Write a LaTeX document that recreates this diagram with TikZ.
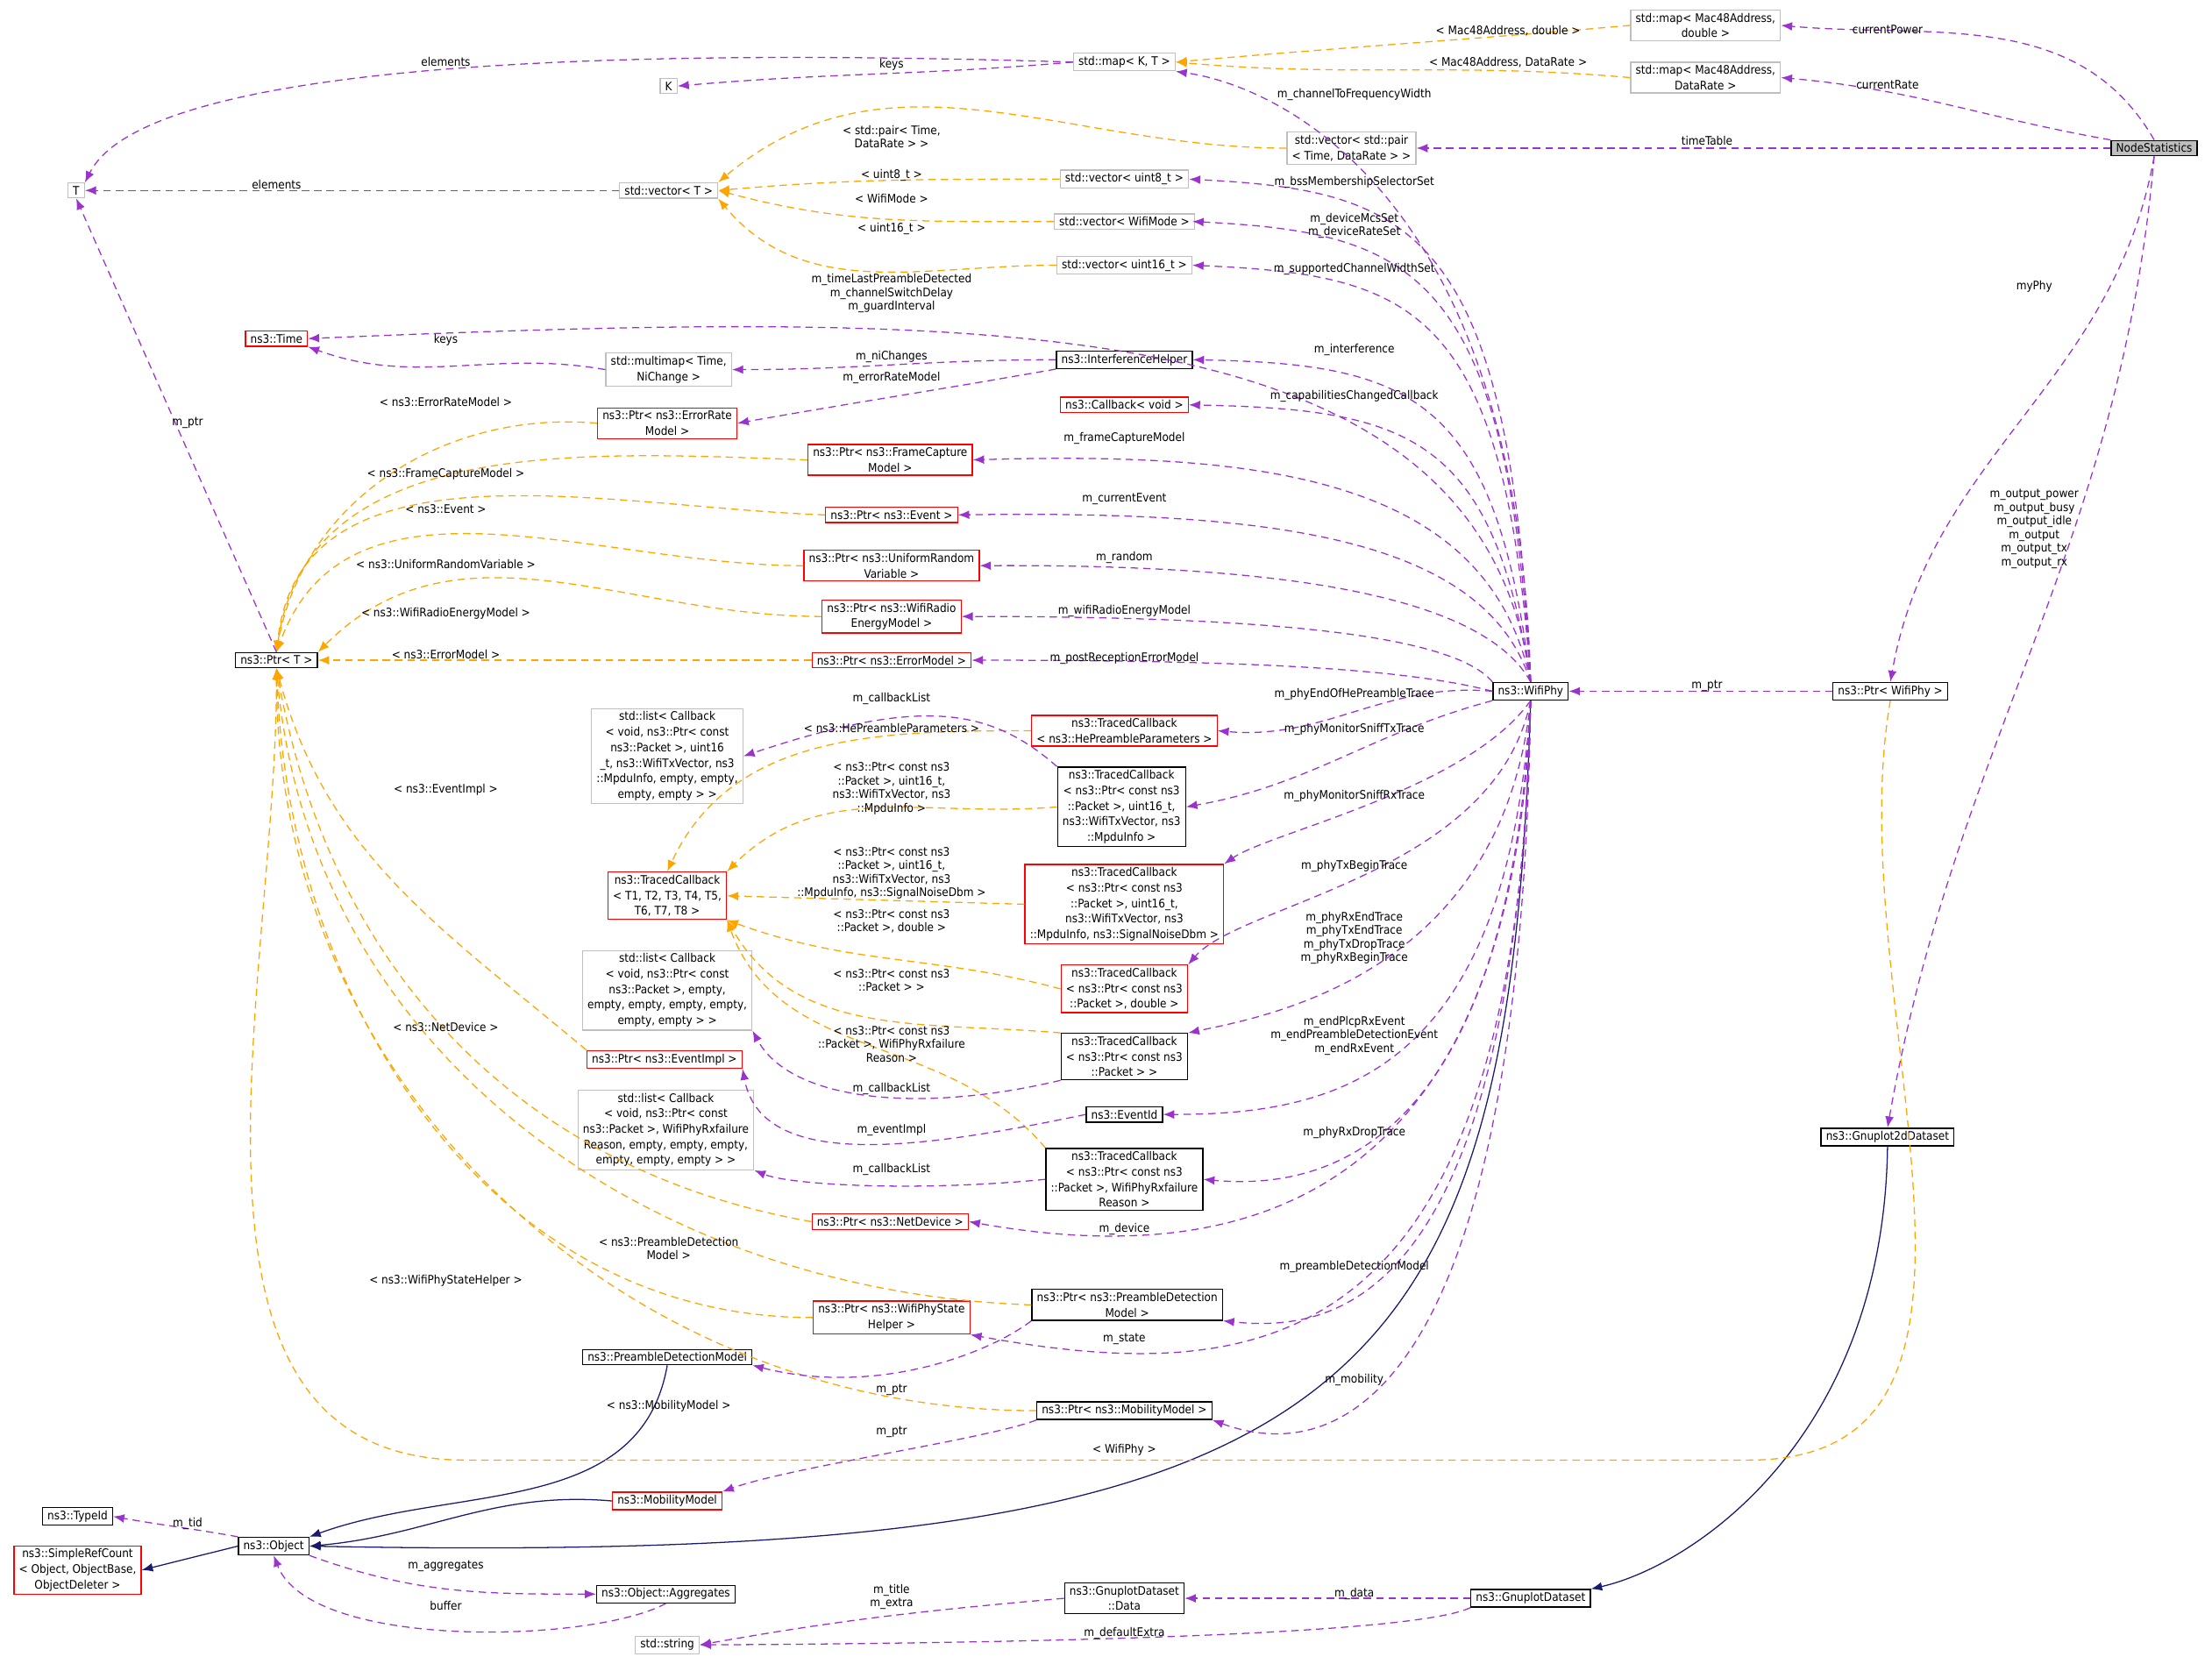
\documentclass[tikz,border=0pt]{standalone}
\usepackage{fontspec}
\setmainfont{DejaVu Sans Condensed}
\usetikzlibrary{arrows.meta}
\definecolor{usecol}{HTML}{9A32CD}
\definecolor{tplcol}{HTML}{FFA500}
\definecolor{inhcol}{HTML}{191970}
\tikzset{
  box/.style={draw=black, line width=0.9pt, align=center, inner xsep=4pt, inner ysep=2.5pt,
    font=\fontsize{9.5}{12.5}\selectfont},
  extbox/.style={box, draw=black!25},
  missbox/.style={box, draw=red},
  selfbox/.style={box, fill=black!25},
  lbl/.style={align=center, font=\fontsize{9.5}{11}\selectfont},
  member/.style={usecol, dashed, dash pattern=on 6pt off 4pt, line width=0.9pt, -{Latex[length=9pt,width=7pt]}},
  tmpl/.style={tplcol, dashed, dash pattern=on 6pt off 4pt, line width=0.9pt, -{Latex[length=9pt,width=7pt]}},
  inherit/.style={inhcol, line width=0.9pt, -{Latex[length=9pt,width=7pt]}}
}

\begin{document}
\begin{tikzpicture}[x=0.04cm, y=0.04cm]
			%%%%% START %%%%%
			\useasboundingbox (0,0) rectangle (1568,-1179);
			
			% classes
			\node[selfbox] (NodeStatistics) at (1527,-105) {NodeStatistics};
			\node[extbox] (mapDouble) at (1209,-18) {std::map< Mac48Address,\\ double >};
			\node[extbox] (mapRate) at (1209,-55) {std::map< Mac48Address,\\ DataRate >};
			\node[extbox] (mapKT) at (797,-44) {std::map< K, T >};
			\node[extbox] (K) at (474,-61) {K};
			\node[extbox] (T) at (54,-135) {T};
			\node[extbox] (vecT) at (474,-135) {std::vector< T >};
			\node[extbox] (vecPair) at (958,-105) {std::vector< std::pair\\< Time, DataRate > >};
			\node[extbox] (vecU8) at (797,-127) {std::vector< uint8\_t >};
			\node[extbox] (vecWifiMode) at (797,-157) {std::vector< WifiMode >};
			\node[extbox] (vecU16) at (797,-188) {std::vector< uint16\_t >};
			\node[missbox] (Time) at (196,-240) {ns3::Time};
			\node[extbox] (multimap) at (474,-262) {std::multimap< Time,\\ NiChange >};
			\node[box] (IntHelper) at (797,-255) {ns3::InterferenceHelper};
			\node[missbox] (PtrErrRate) at (473,-300) {ns3::Ptr< ns3::ErrorRate\\Model >};
			\node[missbox] (CbVoid) at (797,-287) {ns3::Callback< void >};
			\node[missbox] (PtrFrameCap) at (631,-326) {ns3::Ptr< ns3::FrameCapture\\Model >};
			\node[missbox] (PtrEvent) at (632,-365) {ns3::Ptr< ns3::Event >};
			\node[missbox] (PtrUniform) at (632,-401) {ns3::Ptr< ns3::UniformRandom\\Variable >};
			\node[missbox] (PtrEnergy) at (632,-437) {ns3::Ptr< ns3::WifiRadio\\EnergyModel >};
			\node[missbox] (PtrErrModel) at (632,-468) {ns3::Ptr< ns3::ErrorModel >};
			\node[box] (PtrT) at (196,-468) {ns3::Ptr< T >};
			\node[box] (WifiPhy) at (1085,-490) {ns3::WifiPhy};
			\node[box] (PtrWifiPhy) at (1340,-490) {ns3::Ptr< WifiPhy >};
			\node[extbox] (listCbA) at (473,-536) {std::list< Callback\\< void, ns3::Ptr< const\\ ns3::Packet >, uint16\\\_t, ns3::WifiTxVector, ns3\\::MpduInfo, empty, empty,\\ empty, empty > >};
			\node[missbox] (TcHePre) at (797,-518) {ns3::TracedCallback\\< ns3::HePreambleParameters >};
			\node[box] (TcMpdu) at (795,-572) {ns3::TracedCallback\\< ns3::Ptr< const ns3\\::Packet >, uint16\_t,\\ ns3::WifiTxVector, ns3\\::MpduInfo >};
			\node[missbox] (TcT) at (473,-635) {ns3::TracedCallback\\< T1, T2, T3, T4, T5,\\ T6, T7, T8 >};
			\node[missbox] (TcSnr) at (797,-641) {ns3::TracedCallback\\< ns3::Ptr< const ns3\\::Packet >, uint16\_t,\\ ns3::WifiTxVector, ns3\\::MpduInfo, ns3::SignalNoiseDbm >};
			\node[missbox] (TcDouble) at (797,-701) {ns3::TracedCallback\\< ns3::Ptr< const ns3\\::Packet >, double >};
			\node[extbox] (listCbB) at (473,-702) {std::list< Callback\\< void, ns3::Ptr< const\\ ns3::Packet >, empty,\\ empty, empty, empty, empty,\\ empty, empty > >};
			\node[box] (TcPkt) at (797,-749) {ns3::TracedCallback\\< ns3::Ptr< const ns3\\::Packet > >};
			\node[missbox] (PtrEventImpl) at (471,-751) {ns3::Ptr< ns3::EventImpl >};
			\node[box] (EventId) at (797,-790) {ns3::EventId};
			\node[extbox] (listCbC) at (472,-801) {std::list< Callback\\< void, ns3::Ptr< const\\ ns3::Packet >, WifiPhyRxfailure\\Reason, empty, empty, empty,\\ empty, empty, empty > >};
			\node[box] (TcRxFail) at (797,-836) {ns3::TracedCallback\\< ns3::Ptr< const ns3\\::Packet >, WifiPhyRxfailure\\Reason >};
			\node[missbox] (PtrNetDevice) at (631,-866) {ns3::Ptr< ns3::NetDevice >};
			\node[box] (PtrPreamble) at (799,-925) {ns3::Ptr< ns3::PreambleDetection\\Model >};
			\node[missbox] (PtrPhyState) at (632,-934) {ns3::Ptr< ns3::WifiPhyState\\Helper >};
			\node[box] (PreambleModel) at (473,-962) {ns3::PreambleDetectionModel};
			\node[box] (PtrMobility) at (797,-1000) {ns3::Ptr< ns3::MobilityModel >};
			\node[missbox] (MobilityModel) at (473,-1064) {ns3::MobilityModel};
			\node[box] (TypeId) at (55,-1075) {ns3::TypeId};
			\node[box] (Object) at (194,-1096) {ns3::Object};
			\node[missbox] (SimpleRef) at (55,-1113) {ns3::SimpleRefCount\\< Object, ObjectBase,\\ ObjectDeleter >};
			\node[box] (Aggregates) at (472,-1130) {ns3::Object::Aggregates};
			\node[box] (GnuData) at (797,-1133) {ns3::GnuplotDataset\\::Data};
			\node[box] (GnuDataset) at (1085,-1133) {ns3::GnuplotDataset};
			\node[extbox] (String) at (473,-1166) {std::string};
			\node[box] (Gnu2d) at (1338,-806) {ns3::Gnuplot2dDataset};
			
			% inheritance
			\draw[inherit] (PreambleModel.south) to[out=-100,in=20] (Object.north east);
			\draw[inherit] (MobilityModel.west) to[out=175,in=5] (Object.east);
			\draw[inherit] (WifiPhy.south) .. controls (1070,-1000) and (960,-1110) .. (Object.east);
			\draw[inherit] (Object.west) -- (SimpleRef.east);
			\draw[inherit] (Gnu2d.south) .. controls (1335,-1020) and (1200,-1110) .. (GnuDataset.north east);
			
			% templates
			\draw[tmpl] (mapDouble.west) to[out=185,in=5] (mapKT.east);
			\draw[tmpl] (mapRate.west) to[out=175,in=-5] (mapKT.east);
			\draw[tmpl] (vecPair.west) to[out=180,in=40] (vecT.north east);
			\draw[tmpl] (vecU8.west) to[out=180,in=5] (vecT.east);
			\draw[tmpl] (vecWifiMode.west) to[out=180,in=-15] (vecT.east);
			\draw[tmpl] (vecU16.west) to[out=180,in=-50] (vecT.south east);
			\draw[tmpl] (PtrErrRate.west) to[out=175,in=80] (PtrT.north);
			\draw[tmpl] (PtrFrameCap.west) to[out=178,in=82] (PtrT.north);
			\draw[tmpl] (PtrEvent.west) to[out=178,in=84] (PtrT.north);
			\draw[tmpl] (PtrUniform.west) to[out=180,in=70] (PtrT.north);
			\draw[tmpl] (PtrEnergy.west) to[out=180,in=45] (PtrT.north east);
			\draw[tmpl] (PtrErrModel.west) -- (PtrT.east);
			\draw[tmpl] (PtrEventImpl.north west) to[out=140,in=-75] (PtrT.south);
			\draw[tmpl] (PtrNetDevice.west) to[out=170,in=-80] (PtrT.south);
			\draw[tmpl] (PtrPreamble.west) to[out=178,in=-85] (PtrT.south);
			\draw[tmpl] (PtrPhyState.west) to[out=180,in=-88] (PtrT.south);
			\draw[tmpl] (PtrMobility.west) to[out=180,in=-90] (PtrT.south);
			\coordinate (wpBend) at (1240,-1035);
			\coordinate (wpLeft) at (330,-1035);
			\draw[tmpl] (PtrWifiPhy.south) to[out=-100,in=0] (wpBend) -- (wpLeft) to[out=180,in=-90] (PtrT.south);
			\draw[tmpl] (TcHePre.west) to[out=180,in=65] (TcT.north);
			\draw[tmpl] (TcMpdu.west) to[out=185,in=45] (TcT.north east);
			\draw[tmpl] (TcSnr.west) -- (TcT.east);
			\draw[tmpl] (TcDouble.west) to[out=165,in=-20] (TcT.south east);
			\draw[tmpl] (TcPkt.north west) to[out=175,in=-60] (TcT.south east);
			\draw[tmpl] (TcRxFail.north west) to[out=130,in=-70] (TcT.south east);
			
			% members
			\draw[member] (NodeStatistics.north) to[out=120,in=-5] (mapDouble.east);
			\draw[member] (NodeStatistics.north west) to[out=170,in=-5] (mapRate.east);
			\draw[member] (NodeStatistics.west) -- (vecPair.east);
			\draw[member] (NodeStatistics.south) to[out=-100,in=80] (PtrWifiPhy.north);
			\draw[member] (NodeStatistics.south) to[out=-95,in=80] (Gnu2d.north);
			\draw[member] (mapKT.west) to[out=185,in=5] (K.east);
			\draw[member] (mapKT.west) .. controls (560,-38) and (110,-30) .. (T.north east);
			\draw[member] (vecT.west) -- (T.east);
			\draw[member] (PtrT.north) -- (T.south);
			\draw[member] (multimap.west) to[out=170,in=-20] (Time.south east);
			\draw[member] (IntHelper.west) to[out=180,in=0] (multimap.east);
			\draw[member] (IntHelper.south west) to[out=190,in=10] (PtrErrRate.east);
			\draw[member] (WifiPhy.north) .. controls (1075,-130) and (900,-60) .. (mapKT.south east);
			\draw[member] (WifiPhy.north) .. controls (1070,-160) and (1000,-135) .. (vecU8.east);
			\draw[member] (WifiPhy.north) .. controls (1068,-190) and (1000,-165) .. (vecU16.east |- vecWifiMode.east);
			\draw[member] (WifiPhy.north) .. controls (1066,-215) and (1000,-195) .. (vecU16.east);
			\draw[member] (WifiPhy.north) .. controls (1050,-215) and (700,-220) .. (Time.east);
			\draw[member] (WifiPhy.north) .. controls (1060,-280) and (1000,-258) .. (IntHelper.east);
			\draw[member] (WifiPhy.north) .. controls (1058,-310) and (1000,-290) .. (CbVoid.east);
			\draw[member] (WifiPhy.north) .. controls (1055,-340) and (900,-320) .. (PtrFrameCap.east);
			\draw[member] (WifiPhy.north) .. controls (1052,-380) and (900,-362) .. (PtrEvent.east);
			\draw[member] (WifiPhy.north) .. controls (1050,-420) and (900,-400) .. (PtrUniform.east);
			\draw[member] (WifiPhy.north west) .. controls (1030,-450) and (900,-437) .. (PtrEnergy.east);
			\draw[member] (WifiPhy.west) .. controls (1000,-475) and (900,-468) .. (PtrErrModel.east);
			\draw[member] (WifiPhy.west) to[out=175,in=-5] (TcHePre.east);
			\draw[member] (WifiPhy.south west) to[out=195,in=10] (TcMpdu.east);
			\draw[member] (WifiPhy.south) .. controls (1040,-560) and (900,-590) .. (TcSnr.north east);
			\draw[member] (WifiPhy.south) .. controls (1060,-620) and (880,-640) .. (TcDouble.north east);
			\draw[member] (WifiPhy.south) .. controls (1065,-690) and (900,-720) .. (TcPkt.north east);
			\draw[member] (WifiPhy.south) .. controls (1068,-760) and (950,-790) .. (EventId.east);
			\draw[member] (WifiPhy.south) .. controls (1070,-800) and (950,-845) .. (TcRxFail.east);
			\draw[member] (WifiPhy.south) .. controls (1072,-880) and (850,-895) .. (PtrNetDevice.east);
			\draw[member] (WifiPhy.south) .. controls (1074,-920) and (950,-945) .. (PtrPreamble.south east);
			\draw[member] (WifiPhy.south) .. controls (1076,-960) and (900,-985) .. (PtrPhyState.south east);
			\draw[member] (WifiPhy.south) .. controls (1078,-990) and (950,-1040) .. (PtrMobility.south east);
			\draw[member] (PtrWifiPhy.west) -- (WifiPhy.east);
			\draw[member] (TcMpdu.north west) .. controls (700,-500) and (650,-495) .. (listCbA.east);
			\draw[member] (TcPkt.south west) .. controls (650,-790) and (560,-780) .. (listCbB.south east);
			\draw[member] (EventId.west) .. controls (650,-815) and (540,-830) .. (PtrEventImpl.south east);
			\draw[member] (TcRxFail.west) .. controls (650,-845) and (560,-840) .. (listCbC.south east);
			\draw[member] (PtrPreamble.south west) .. controls (700,-960) and (620,-990) .. (PreambleModel.south east);
			\draw[member] (PtrMobility.south west) .. controls (700,-1020) and (560,-1040) .. (MobilityModel.north east);
			\draw[member] (Object.north west) to[out=170,in=-10] (TypeId.east);
			\draw[member] (Object.south east) to[out=-20,in=180] (Aggregates.west);
			\draw[member] (Aggregates.south) .. controls (420,-1165) and (220,-1170) .. (Object.south);
			\draw[member] (GnuData.west) to[out=185,in=10] (String.east);
			\draw[member] (GnuDataset.west) -- (GnuData.east);
			\draw[member] (GnuDataset.south west) .. controls (1000,-1160) and (700,-1165) .. (String.east);
			
			% labels
			\node[lbl] (lPower) at (1338,-21) {currentPower};
			\node[lbl] (lRate) at (1338,-60) {currentRate};
			\node[lbl] (lTable) at (1210,-100) {timeTable};
			\node[lbl] (lMyPhy) at (1442,-203) {myPhy};
			\node[lbl] (lOutput) at (1442,-375) {m\_output\_power\\m\_output\_busy\\m\_output\_idle\\m\_output\\m\_output\_tx\\m\_output\_rx};
			\node[lbl] (lKeysK) at (632,-46) {keys};
			\node[lbl] (lElemA) at (316,-44) {elements};
			\node[lbl] (lElemB) at (196,-131) {elements};
			\node[lbl] (lFreq) at (960,-67) {m\_channelToFrequencyWidth};
			\node[lbl] (lBss) at (960,-129) {m\_bssMembershipSelectorSet};
			\node[lbl] (lMcs) at (960,-160) {m\_deviceMcsSet\\m\_deviceRateSet};
			\node[lbl] (lWidth) at (960,-191) {m\_supportedChannelWidthSet};
			\node[lbl] (lTimes) at (632,-208) {m\_timeLastPreambleDetected\\m\_channelSwitchDelay\\m\_guardInterval};
			\node[lbl] (lKeysT) at (316,-241) {keys};
			\node[lbl] (lNi) at (632,-253) {m\_niChanges};
			\node[lbl] (lErrRate) at (632,-268) {m\_errorRateModel};
			\node[lbl] (lInterf) at (960,-248) {m\_interference};
			\node[lbl] (lCapab) at (960,-281) {m\_capabilitiesChangedCallback};
			\node[lbl] (lFrame) at (797,-311) {m\_frameCaptureModel};
			\node[lbl] (lCurEv) at (797,-354) {m\_currentEvent};
			\node[lbl] (lRandom) at (797,-395) {m\_random};
			\node[lbl] (lEnergy) at (797,-433) {m\_wifiRadioEnergyModel};
			\node[lbl] (lPostErr) at (797,-467) {m\_postReceptionErrorModel};
			\node[lbl] (lHeTrace) at (960,-492) {m\_phyEndOfHePreambleTrace};
			\node[lbl] (lSniffTx) at (960,-517) {m\_phyMonitorSniffTxTrace};
			\node[lbl] (lSniffRx) at (960,-564) {m\_phyMonitorSniffRxTrace};
			\node[lbl] (lTxBegin) at (960,-614) {m\_phyTxBeginTrace};
			\node[lbl] (lRxEnd) at (960,-665) {m\_phyRxEndTrace\\m\_phyTxEndTrace\\m\_phyTxDropTrace\\m\_phyRxBeginTrace};
			\node[lbl] (lEvents) at (960,-734) {m\_endPlcpRxEvent\\m\_endPreambleDetectionEvent\\m\_endRxEvent};
			\node[lbl] (lRxDrop) at (960,-803) {m\_phyRxDropTrace};
			\node[lbl] (lDevice) at (797,-871) {m\_device};
			\node[lbl] (lPreDet) at (960,-898) {m\_preambleDetectionModel};
			\node[lbl] (lState) at (797,-949) {m\_state};
			\node[lbl] (lMobil) at (960,-978) {m\_mobility};
			\node[lbl] (lPtrPhy) at (1210,-486) {m\_ptr};
			\node[lbl] (lCbA) at (632,-495) {m\_callbackList};
			\node[lbl] (lCbB) at (632,-772) {m\_callbackList};
			\node[lbl] (lEvImpl) at (632,-801) {m\_eventImpl};
			\node[lbl] (lCbC) at (632,-829) {m\_callbackList};
			\node[lbl] (lPtrPre) at (632,-985) {m\_ptr};
			\node[lbl] (lPtrMob) at (632,-1015) {m\_ptr};
			\node[lbl] (lTid) at (133,-1080) {m\_tid};
			\node[lbl] (lAggr) at (316,-1110) {m\_aggregates};
			\node[lbl] (lBuffer) at (316,-1138) {buffer};
			\node[lbl] (lTitle) at (632,-1132) {m\_title\\m\_extra};
			\node[lbl] (lData) at (960,-1130) {m\_data};
			\node[lbl] (lExtra) at (797,-1158) {m\_defaultExtra};
			\node[lbl] (lPtrT) at (133,-300) {m\_ptr};
			\node[lbl] (tMacD) at (1069,-22) {< Mac48Address, double >};
			\node[lbl] (tMacR) at (1069,-44) {< Mac48Address, DataRate >};
			\node[lbl] (tPair) at (632,-97) {< std::pair< Time,\\DataRate > >};
			\node[lbl] (tU8) at (632,-124) {< uint8\_t >};
			\node[lbl] (tMode) at (632,-141) {< WifiMode >};
			\node[lbl] (tU16) at (632,-162) {< uint16\_t >};
			\node[lbl] (tErrRate) at (316,-285) {< ns3::ErrorRateModel >};
			\node[lbl] (tFrame) at (316,-336) {< ns3::FrameCaptureModel >};
			\node[lbl] (tEvent) at (316,-361) {< ns3::Event >};
			\node[lbl] (tUniform) at (316,-400) {< ns3::UniformRandomVariable >};
			\node[lbl] (tEnergy) at (316,-435) {< ns3::WifiRadioEnergyModel >};
			\node[lbl] (tErrModel) at (316,-464) {< ns3::ErrorModel >};
			\node[lbl] (tEvImpl) at (316,-560) {< ns3::EventImpl >};
			\node[lbl] (tNetDev) at (316,-728) {< ns3::NetDevice >};
			\node[lbl] (tPreDet) at (474,-885) {< ns3::PreambleDetection\\Model >};
			\node[lbl] (tState) at (316,-908) {< ns3::WifiPhyStateHelper >};
			\node[lbl] (tMobil) at (474,-997) {< ns3::MobilityModel >};
			\node[lbl] (tWifiPhy) at (797,-1028) {< WifiPhy >};
			\node[lbl] (tHe) at (632,-516) {< ns3::HePreambleParameters >};
			\node[lbl] (tMpdu) at (632,-559) {< ns3::Ptr< const ns3\\::Packet >, uint16\_t,\\ ns3::WifiTxVector, ns3\\::MpduInfo >};
			\node[lbl] (tSnr) at (632,-619) {< ns3::Ptr< const ns3\\::Packet >, uint16\_t,\\ ns3::WifiTxVector, ns3\\::MpduInfo, ns3::SignalNoiseDbm >};
			\node[lbl] (tDouble) at (632,-653) {< ns3::Ptr< const ns3\\::Packet >, double >};
			\node[lbl] (tPkt) at (632,-695) {< ns3::Ptr< const ns3\\::Packet > >};
			\node[lbl] (tRxFail) at (632,-740) {< ns3::Ptr< const ns3\\::Packet >, WifiPhyRxfailure\\Reason >};
			
			%%%%% END %%%%%
		\end{tikzpicture}
\end{document}
